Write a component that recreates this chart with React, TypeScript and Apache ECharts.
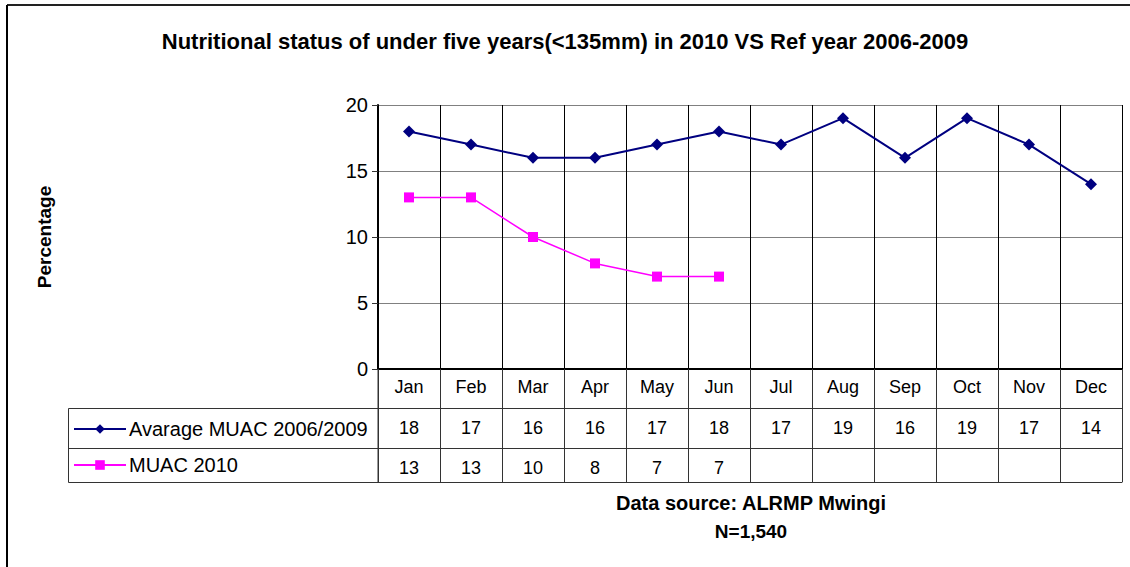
import React, { useEffect, useRef } from "react";
import * as echarts from "echarts";

const months = ["Jan", "Feb", "Mar", "Apr", "May", "Jun", "Jul", "Aug", "Sep", "Oct", "Nov", "Dec"];
const avgMuac = [18, 17, 16, 16, 17, 18, 17, 19, 16, 19, 17, 14];
const muac2010: (number | null)[] = [13, 13, 10, 8, 7, 7, null, null, null, null, null, null];
const avgName = "Avarage MUAC 2006/2009";
const muacName = "MUAC 2010";
const yTicks = { min: 0, max: 20, interval: 5 };

const FONT = "Arial, 'Liberation Sans', sans-serif";

export default function App() {
  const ref = useRef<HTMLDivElement>(null);
  useEffect(() => {
    if (!ref.current) return;
    const chart = echarts.init(ref.current, null, { renderer: "svg" });
    const tableAxis = (data: string[], offset: number, tickLen: number) => ({
      type: "category",
      data,
      position: "bottom",
      offset,
      boundaryGap: true,
      axisLine: { show: true, lineStyle: { color: "#333", width: 1 } },
      axisTick: { show: true, length: tickLen, inside: false, lineStyle: { color: "#333", width: 1 } },
      axisLabel: { show: true, color: "#000", fontSize: 18, fontFamily: FONT, margin: 11 },
      splitLine: { show: false },
    });
    chart.setOption({
      animation: false,
      backgroundColor: "#fff",
      title: {
        text: "Nutritional status of under five years(<135mm) in 2010 VS Ref year 2006-2009",
        left: "center",
        top: 25,
        textStyle: { fontSize: 22, fontWeight: "bold", color: "#000", fontFamily: FONT },
      },
      grid: { left: 378, right: 8, top: 105, bottom: 198, containLabel: false },
      legend: {
        orient: "vertical",
        left: 68,
        top: 414,
        itemGap: 16,
        itemWidth: 52,
        itemHeight: 12,
        textStyle: { fontSize: 20, color: "#000", fontFamily: FONT, padding: [0, 0, 0, -2] },
        data: [avgName, muacName],
      },
      xAxis: [
        {
          type: "category",
          data: months,
          position: "bottom",
          boundaryGap: true,
          axisLine: { show: true, lineStyle: { color: "#000", width: 2 } },
          axisTick: { show: true, length: 39, lineStyle: { color: "#333", width: 1 } },
          axisLabel: { color: "#000", fontSize: 18, fontFamily: FONT, margin: 9 },
          splitLine: { show: true, lineStyle: { color: "#000", width: 1 } },
        },
        tableAxis(avgMuac.map(String), 39, 40),
        tableAxis(muac2010.map((v) => (v == null ? "" : String(v))), 79, 34),
        {
          type: "category",
          data: months,
          position: "bottom",
          offset: 113,
          axisLine: { show: true, lineStyle: { color: "#333", width: 1 } },
          axisTick: { show: false },
          axisLabel: { show: false },
        },
      ],
      yAxis: {
        type: "value",
        min: yTicks.min,
        max: yTicks.max,
        interval: yTicks.interval,
        name: "Percentage",
        nameLocation: "middle",
        nameRotate: 90,
        nameGap: 324,
        nameTextStyle: { fontSize: 19, fontWeight: "bold", color: "#000", fontFamily: FONT },
        axisLine: { show: true, lineStyle: { color: "#000", width: 2 } },
        axisTick: { show: true, length: 6, inside: false, lineStyle: { color: "#333" } },
        axisLabel: { color: "#000", fontSize: 20, fontFamily: FONT, margin: 10 },
        splitLine: { show: true, lineStyle: { color: "#808080", width: 1 } },
      },
      series: [
        {
          name: avgName,
          type: "line",
          data: avgMuac,
          xAxisIndex: 0,
          symbol: "diamond",
          symbolSize: 12,
          lineStyle: { color: "#000080", width: 2 },
          itemStyle: { color: "#000080" },
        },
        {
          name: muacName,
          type: "line",
          data: muac2010,
          xAxisIndex: 0,
          symbol: "rect",
          symbolSize: 10,
          lineStyle: { color: "#FF00FF", width: 1.5 },
          itemStyle: { color: "#FF00FF" },
        },
      ],
      graphic: [
        { type: "line", shape: { x1: 7, y1: 5, x2: 1130, y2: 5 }, style: { stroke: "#222", lineWidth: 2 } },
        { type: "line", shape: { x1: 7, y1: 5, x2: 7, y2: 567 }, style: { stroke: "#000", lineWidth: 2 } },
        { type: "rect", shape: { x: 68.5, y: 408.5, width: 310, height: 74 }, style: { fill: "none", stroke: "#333", lineWidth: 1 } },
        { type: "line", shape: { x1: 68, y1: 448.5, x2: 378, y2: 448.5 }, style: { stroke: "#333", lineWidth: 1 } },
        { type: "line", shape: { x1: 378, y1: 369, x2: 378, y2: 482 }, style: { stroke: "#333", lineWidth: 1 } },
        {
          type: "text",
          x: 751,
          y: 503,
          style: { text: "Data source: ALRMP Mwingi", fill: "#000", font: "bold 20px Arial, 'Liberation Sans', sans-serif", textAlign: "center", textVerticalAlign: "middle" },
        },
        {
          type: "text",
          x: 751,
          y: 531,
          style: { text: "N=1,540", fill: "#000", font: "bold 19px Arial, 'Liberation Sans', sans-serif", textAlign: "center", textVerticalAlign: "middle" },
        },
      ],
    });
    return () => chart.dispose();
  }, []);
  return <div ref={ref} style={{ position: "fixed", left: 0, top: 0, width: 1130, height: 567 }} />;
}
